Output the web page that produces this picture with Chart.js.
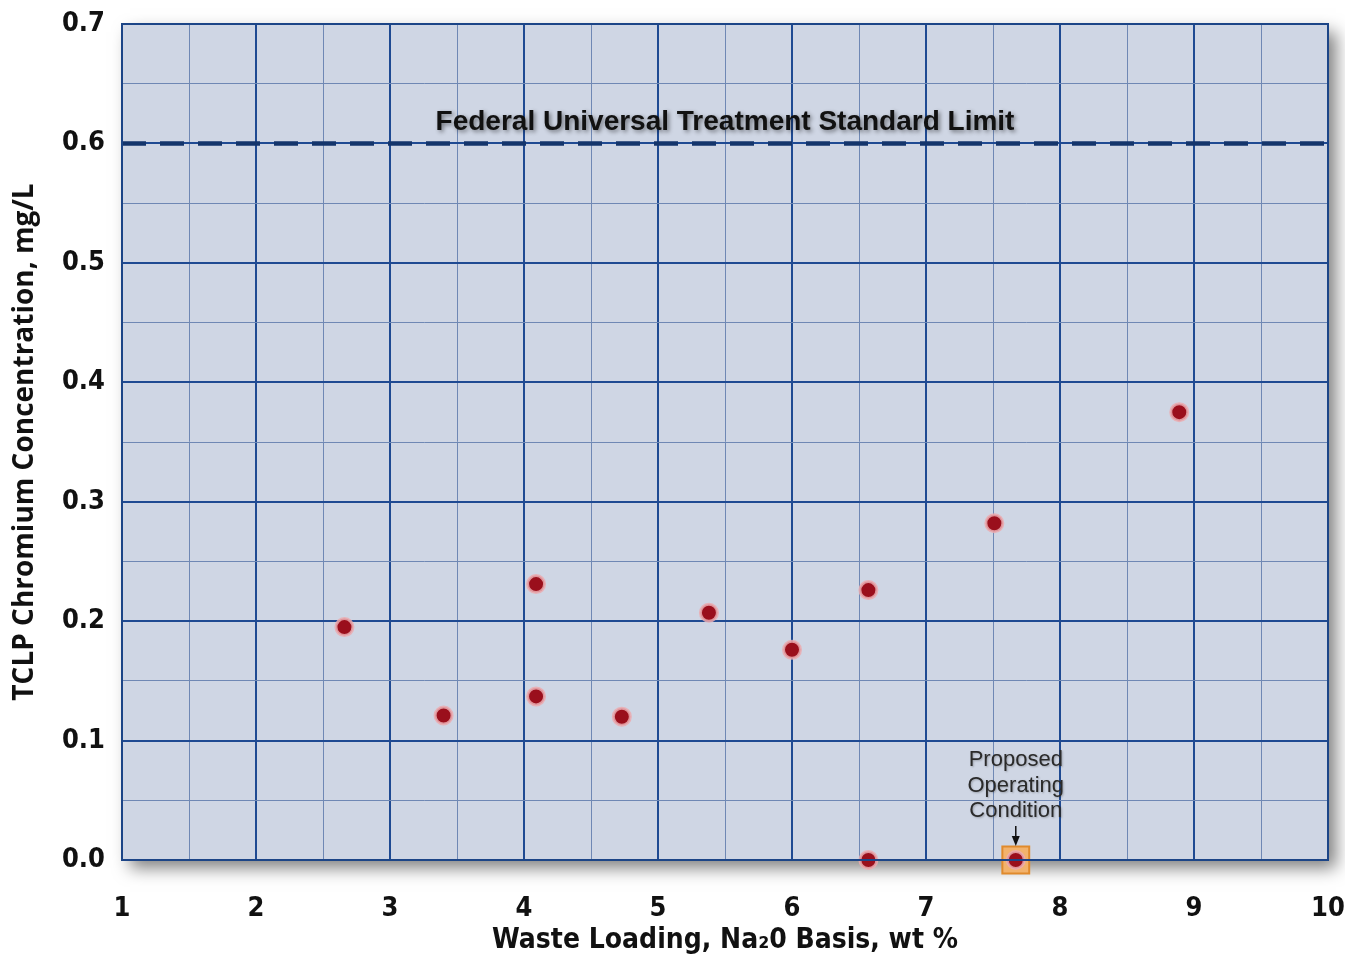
<!DOCTYPE html>
<html>
<head>
<meta charset="utf-8">
<title>TCLP Chromium vs Waste Loading</title>
<script src="https://cdn.jsdelivr.net/npm/chart.js@4.4.1/dist/chart.umd.min.js"></script>
<style>
  html, body { margin: 0; padding: 0; background: #ffffff; }
  #wrap { width: 1345px; height: 958px; position: relative; }
</style>
</head>
<body>
<div id="wrap"><canvas id="chart" width="1345" height="958"></canvas></div>
<script>
// Waste loading (Na2O basis, wt %) and TCLP chromium result (mg/L) for each glass
const wasteLoading = [2.66, 3.40, 4.09, 4.09, 4.73, 5.38, 6.00, 6.57, 7.51, 8.89, 6.57, 7.67];
const chromium     = [0.195, 0.121, 0.231, 0.137, 0.120, 0.207, 0.176, 0.226, 0.282, 0.375, 0.000, 0.000];

// Proposed operating condition
const proposedLoading = [7.67];
const proposedChromium = [0.000];

// Regulatory limit
const limitValue = 0.6;
const limitLabel = 'Federal Universal Treatment Standard Limit';
const proposedLabel = ['Proposed', 'Operating', 'Condition'];

// Axis settings
const xRange = [1, 10];
const yRange = [0, 0.7];
const xTitle = 'Waste Loading, Na\u20820 Basis, wt %';
const yTitle = 'TCLP Chromium Concentration, mg/L';

const points = wasteLoading.map((x, i) => ({ x: x, y: chromium[i] }));
const proposed = proposedLoading.map((x, i) => ({ x: x, y: proposedChromium[i] }));
const limitLine = [{ x: xRange[0], y: limitValue }, { x: xRange[1], y: limitValue }];

const isWhole = (v, step) => Math.abs(v / step - Math.round(v / step)) < 1e-6;
const tickFont = { family: '"DejaVu Sans Condensed", "DejaVu Sans", sans-serif', size: 27, weight: 'bold' };

// Plot panel fill with a soft drop shadow, drawn beneath the grid
const panelPlugin = {
  id: 'panel',
  beforeDraw(chart) {
    const { ctx, chartArea: a } = chart;
    ctx.save();
    ctx.shadowColor = 'rgba(0,0,0,0.5)';
    ctx.shadowBlur = 16;
    ctx.shadowOffsetX = 8;
    ctx.shadowOffsetY = 8;
    ctx.fillStyle = '#cfd6e4';
    ctx.fillRect(a.left, a.top, a.right - a.left, a.bottom - a.top);
    ctx.restore();
  },
  afterDraw(chart) {
    const { ctx, chartArea: a, scales } = chart;
    const xs = scales.x, ys = scales.y;
    ctx.save();
    // panel outline
    ctx.strokeStyle = '#1c4587';
    ctx.lineWidth = 2;
    ctx.strokeRect(a.left, a.top, a.right - a.left, a.bottom - a.top);

    // limit caption
    ctx.font = 'bold 28px "Liberation Sans", Arial, sans-serif';
    ctx.textAlign = 'center';
    ctx.textBaseline = 'middle';
    ctx.shadowColor = 'rgba(0,0,0,0.45)';
    ctx.shadowBlur = 4;
    ctx.shadowOffsetX = 2;
    ctx.shadowOffsetY = 2;
    ctx.fillStyle = '#111111';
    ctx.fillText(limitLabel, xs.getPixelForValue((xRange[0] + xRange[1]) / 2), ys.getPixelForValue(limitValue + 0.0175));

    // proposed operating condition callout
    const px = xs.getPixelForValue(proposedLoading[0]);
    const py = ys.getPixelForValue(proposedChromium[0]);
    ctx.shadowColor = 'rgba(0,0,0,0.25)';
    ctx.shadowBlur = 2;
    ctx.shadowOffsetX = 1;
    ctx.shadowOffsetY = 1;
    ctx.font = '22px "Liberation Sans Narrow", "Liberation Sans", Arial, sans-serif';
    ctx.fillStyle = '#2a2a2a';
    proposedLabel.forEach((t, i) => ctx.fillText(t, px, py - 100 + i * 25.5));
    ctx.shadowColor = 'transparent';
    ctx.strokeStyle = '#111111';
    ctx.lineWidth = 1.5;
    ctx.beginPath();
    ctx.moveTo(px, py - 34);
    ctx.lineTo(px, py - 22);
    ctx.stroke();
    ctx.fillStyle = '#111111';
    ctx.beginPath();
    ctx.moveTo(px - 4, py - 24);
    ctx.lineTo(px + 4, py - 24);
    ctx.lineTo(px, py - 14);
    ctx.closePath();
    ctx.fill();
    ctx.restore();
  }
};

new Chart(document.getElementById('chart'), {
  type: 'scatter',
  data: {
    datasets: [
      {
        label: 'TCLP Cr',
        data: points,
        pointRadius: 8.5,
        pointHoverRadius: 8.5,
        backgroundColor: '#9a0f1c',
        borderColor: 'rgba(235,170,175,0.85)',
        borderWidth: 3,
        clip: false
      },
      {
        label: 'Proposed',
        data: proposed,
        pointStyle: 'rect',
        pointRadius: 19,
        pointHoverRadius: 19,
        backgroundColor: '#f2b26c',
        borderColor: '#e08a2c',
        borderWidth: 2,
        clip: false
      },
      {
        label: 'Limit',
        type: 'line',
        data: limitLine,
        borderColor: '#14356b',
        borderWidth: 4.5,
        borderDash: [24, 14],
        pointRadius: 0,
        fill: false
      }
    ]
  },
  options: {
    responsive: false,
    animation: false,
    events: [],
    layout: { autoPadding: false, padding: { left: 0, right: 17, top: 24, bottom: 0 } },
    plugins: {
      legend: { display: false },
      tooltip: { enabled: false }
    },
    scales: {
      x: {
        type: 'linear',
        min: xRange[0],
        max: xRange[1],
        afterFit(s) { s.height = 98; s.paddingLeft = 0; s.paddingRight = 0; },
        ticks: {
          stepSize: 0.5,
          autoSkip: false,
          maxRotation: 0,
          padding: 33,
          color: '#111111',
          font: tickFont,
          callback: (v) => isWhole(v, 1) ? String(v) : ''
        },
        grid: {
          drawTicks: false,
          color: (c) => isWhole(c.tick.value, 1) ? '#1f4a92' : '#6f88b4',
          lineWidth: (c) => isWhole(c.tick.value, 1) ? 2 : 1
        },
        border: { display: true, color: '#1c4587', width: 2 },
        title: {
          display: true,
          text: xTitle,
          color: '#111111',
          font: { family: '"DejaVu Sans Condensed", "DejaVu Sans", sans-serif', size: 28, weight: 'bold' },
          padding: { top: 0, bottom: 0 }
        }
      },
      y: {
        type: 'linear',
        min: yRange[0],
        max: yRange[1],
        afterFit(s) { s.width = 122; s.paddingTop = 0; s.paddingBottom = 0; },
        ticks: {
          stepSize: 0.05,
          autoSkip: false,
          padding: 17,
          color: '#111111',
          font: tickFont,
          callback: (v) => isWhole(v, 0.1) ? v.toFixed(1) : ''
        },
        grid: {
          drawTicks: false,
          color: (c) => isWhole(c.tick.value, 0.1) ? '#1f4a92' : '#6f88b4',
          lineWidth: (c) => isWhole(c.tick.value, 0.1) ? 2 : 1
        },
        border: { display: true, color: '#1c4587', width: 2 },
        title: {
          display: true,
          text: yTitle,
          color: '#111111',
          font: { family: '"Open Sans", "DejaVu Sans", sans-serif', size: 28, weight: 'bold' },
          padding: { top: 8, bottom: 0 }
        }
      }
    }
  },
  plugins: [panelPlugin]
});
</script>
</body>
</html>
